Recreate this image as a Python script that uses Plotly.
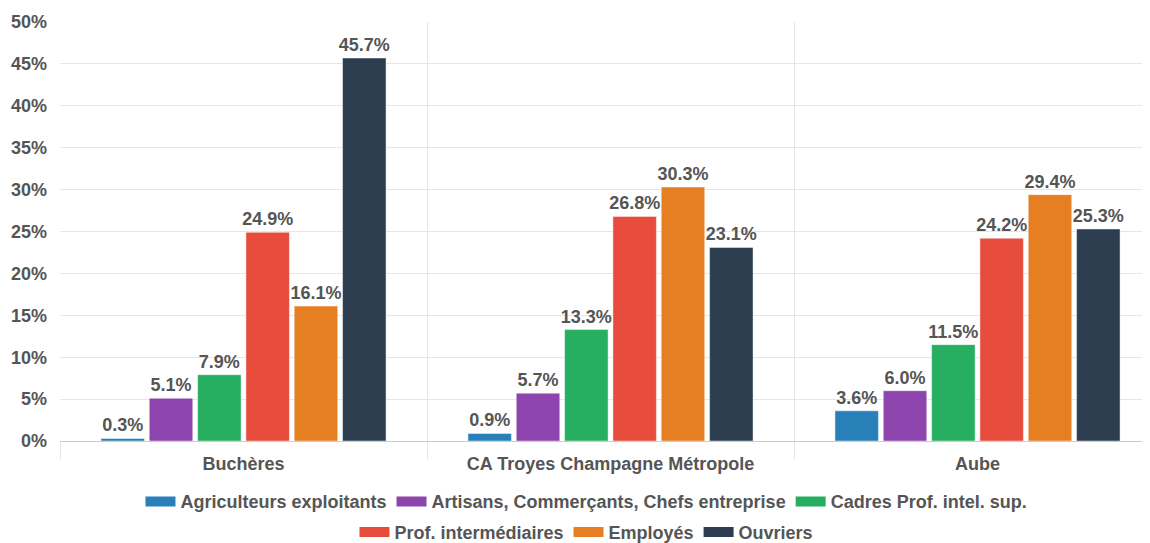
import plotly.graph_objects as go

categories = ["Buchères", "CA Troyes Champagne Métropole", "Aube"]
series_names = ["Agriculteurs exploitants", "Artisans, Commerçants, Chefs entreprise",
                "Cadres Prof. intel. sup.", "Prof. intermédiaires", "Employés", "Ouvriers"]
agriculteurs = [0.3, 0.9, 3.6]
artisans = [5.1, 5.7, 6.0]
cadres = [7.9, 13.3, 11.5]
prof_inter = [24.9, 26.8, 24.2]
employes = [16.1, 30.3, 29.4]
ouvriers = [45.7, 23.1, 25.3]
colors = ["#2980b9", "#8e44ad", "#27ae60", "#e74c3c", "#e67e22", "#2c3e50"]
y_ticks = [0, 5, 10, 15, 20, 25, 30, 35, 40, 45, 50]

FONT = "Liberation Sans, Arial, sans-serif"
GRAY = "#555555"

fig = go.Figure()
all_values = [agriculteurs, artisans, cadres, prof_inter, employes, ouvriers]
for i, (name, vals) in enumerate(zip(series_names, all_values)):
    fig.add_trace(go.Bar(
        x=categories, y=vals, name=name, marker_color=colors[i],
        marker_line=dict(width=1, color="rgba(255,255,255,0.45)"),
        texttemplate="<b>%{y:.1f}%</b>", textposition="outside",
        textfont=dict(family=FONT, size=18, color=GRAY),
        constraintext="none",
        cliponaxis=False, showlegend=False, hoverinfo="skip",
    ))
# legend entries (two rows)
for i, name in enumerate(series_names):
    fig.add_trace(go.Scatter(
        x=[None], y=[None], mode="lines", name=name,
        line=dict(color=colors[i], width=18),
        legend="legend" if i < 3 else "legend2", hoverinfo="skip",
    ))

legend_common = dict(orientation="h", xanchor="center", yanchor="middle",
                     font=dict(family=FONT, size=18, color=GRAY, weight="bold"),
                     bgcolor="rgba(0,0,0,0)", itemwidth=30, tracegroupgap=0)

# page body has an 8px default margin, so the figure is 8px smaller
fig.update_layout(
    width=1142, height=535,
    margin=dict(l=52, r=0, t=14, b=102, autoexpand=False),
    plot_bgcolor="white", paper_bgcolor="white",
    barmode="group", bargap=0.21, bargroupgap=0.1,
    font=dict(family=FONT, color=GRAY),
    legend=dict(x=0.483, y=-0.145, **legend_common),
    legend2=dict(x=0.483, y=-0.218, **legend_common),
)
fig.update_xaxes(
    type="category", range=[-0.5, 2.47], tickson="boundaries",
    showgrid=True, gridcolor="#e6e6e6", gridwidth=1,
    ticks="outside", ticklen=18, tickcolor="#e6e6e6",
    showline=True, linecolor="#cccccc", linewidth=1,
    tickfont=dict(family=FONT, size=18, color=GRAY, weight="bold"),
    ticklabelstandoff=6, automargin=False,
)
fig.update_yaxes(
    range=[0, 50], tickvals=y_ticks, ticktext=[f"{v}%" for v in y_ticks],
    showgrid=True, gridcolor="#e6e6e6", gridwidth=1, zeroline=False,
    tickfont=dict(family=FONT, size=18, color=GRAY, weight="bold"),
    ticks="", ticklabelstandoff=12, automargin=False,
)
fig.write_html("out.html", config={"displayModeBar": False})
